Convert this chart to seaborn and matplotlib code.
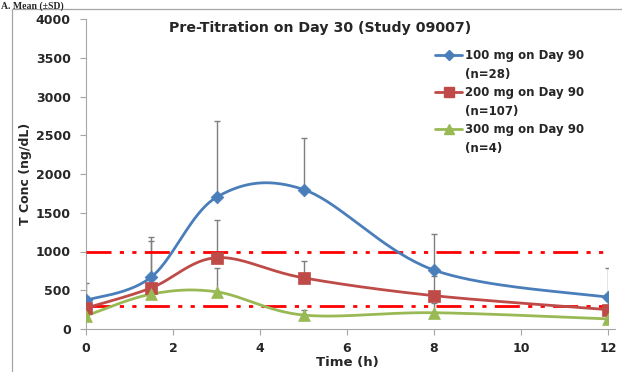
import numpy as np
import pandas as pd
import matplotlib
matplotlib.use("Agg")
import matplotlib.pyplot as plt
from matplotlib.lines import Line2D
from matplotlib.patches import Rectangle
import seaborn as sns

# Sampling times (h)
time_h = [0, 1.5, 3, 5, 8, 12]

# Mean testosterone concentration (ng/dL) per dose group
mean_100 = [370, 670, 1700, 1800, 760, 410]
mean_200 = [270, 530, 920, 660, 430, 250]
mean_300 = [170, 450, 480, 180, 210, 130]

# Mean + SD (upper end of the error bars)
upper_100 = [590, 1190, 2690, 2460, 1230, 790]
upper_200 = [420, 1130, 1410, 880, 680, 290]
upper_300 = [230, 0, 790, 250, 330, 0]

group_names = ["100 mg on Day 90", "200 mg on Day 90", "300 mg on Day 90"]
group_n = ["(n=28)", "(n=107)", "(n=4)"]
ref_levels = [1000, 300]

title_text = "Pre-Titration on Day 30 (Study 09007)"
panel_text = "A. Mean (\u00b1SD)"
x_ticks = [0, 2, 4, 6, 8, 10, 12]
y_ticks = [0, 500, 1000, 1500, 2000, 2500, 3000, 3500, 4000]

colors = ["#4A7EBB", "#BE4B48", "#98B954"]
markers = ["D", "s", "^"]
msizes = [6.5, 8, 8.5]

sns.set_theme(style="white")
plt.rcParams["font.family"] = ["DejaVu Sans"]
plt.rcParams["font.weight"] = "bold"


def smooth_curve(xs, ys, n=40):
    """Piecewise cubic Bezier through the points (Catmull-Rom style tangents)."""
    pts = np.column_stack([xs, ys]).astype(float)
    out = []
    for i in range(len(pts) - 1):
        p0 = pts[i - 1] if i > 0 else pts[i]
        p1 = pts[i]
        p2 = pts[i + 1]
        p3 = pts[i + 2] if i + 2 < len(pts) else pts[i + 1]
        c1 = p1 + (p2 - p0) / 6.0
        c2 = p2 - (p3 - p1) / 6.0
        t = np.linspace(0, 1, n)[:, None]
        seg = ((1 - t) ** 3) * p1 + 3 * ((1 - t) ** 2) * t * c1 + 3 * (1 - t) * t ** 2 * c2 + t ** 3 * p2
        out.append(seg if i == 0 else seg[1:])
    seg = np.vstack(out)
    return seg[:, 0], seg[:, 1]


fig = plt.figure(figsize=(6.22, 3.72), dpi=100)
ax = fig.add_axes([86 / 622, 1 - 329 / 372, (608 - 86) / 622, (329 - 19) / 372])

# Outer frame of the chart area
fig.patches.append(Rectangle((12 / 622, -0.1), 1.2, 1 - 9 / 372 + 0.1, transform=fig.transFigure,
                             fill=False, edgecolor="#A6A6A6", lw=0.9, zorder=0))

means = [mean_100, mean_200, mean_300]
uppers = [upper_100, upper_200, upper_300]

# Upward-only SD bars
for m, u in zip(means, uppers):
    m = np.array(m, float)
    u = np.array(u, float)
    err = np.where(u > m, u - m, 0.0)
    keep = err > 0
    ax.errorbar(np.array(time_h)[keep], m[keep], yerr=[np.zeros(keep.sum()), err[keep]],
                fmt="none", ecolor="#7F7F7F", elinewidth=1.0, capsize=2.0, capthick=1.0, zorder=2)

# Reference concentration lines
for lvl in ref_levels:
    ax.plot([time_h[0], time_h[-1]], [lvl, lvl], color="#FF0000", lw=2.0,
            dashes=(9, 3, 1.5, 3, 1.5, 3), zorder=3)

# Smoothed mean curves with markers
for m, c, mk, ms in zip(means, colors, markers, msizes):
    sx, sy = smooth_curve(time_h, m)
    sns.lineplot(x=sx, y=sy, ax=ax, color=c, lw=2.0, sort=False, estimator=None, zorder=4)
    sns.scatterplot(x=time_h, y=m, ax=ax, color=c, marker=mk, s=ms ** 2, edgecolor=c, linewidth=0.5, zorder=5)

ax.set_xlim(0, 12)
ax.set_ylim(0, 4000)
ax.set_xticks(x_ticks)
ax.set_yticks(y_ticks)
ax.tick_params(axis="both", labelsize=9, length=4, width=0.8, color="#A6A6A6", direction="out",
               left=True, bottom=True)
ax.tick_params(axis="y", pad=7)
ax.tick_params(axis="x", pad=5.5)
for lbl in ax.get_xticklabels() + ax.get_yticklabels():
    lbl.set_fontweight("bold")
for side in ["top", "right"]:
    ax.spines[side].set_visible(False)
for side in ["left", "bottom"]:
    ax.spines[side].set_color("#A6A6A6")
    ax.spines[side].set_linewidth(0.8)
ax.spines["bottom"].set_bounds(-0.08, 12.15)

ax.set_xlabel("Time (h)", fontsize=9.5, fontweight="bold", labelpad=0.5)
ax.set_ylabel("T Conc (ng/dL)", fontsize=9, fontweight="bold", labelpad=3)
ax.text(0.449, 1 - (28 - 19) / 310, title_text, transform=ax.transAxes, ha="center", va="center",
        fontsize=10.2, fontweight="bold")

fig.text(0.002, 1 - 1 / 372, panel_text, ha="left", va="top", fontsize=7, fontweight="bold",
         family=["Liberation Serif", "DejaVu Serif"])

# Legend: group name next to the handle, sample size on the line below
handles, labels = [], []
for c, mk, ms, name, n in zip(colors, markers, msizes, group_names, group_n):
    handles.append(Line2D([0], [0], color=c, lw=2.0, marker=mk, markersize=ms * 0.85, markeredgecolor=c))
    labels.append(name)
    handles.append(Line2D([0], [0], color="none", lw=0))
    labels.append(n)
leg = ax.legend(handles, labels, loc="upper left", bbox_to_anchor=((435 - 86) / 522, 1 - (49 - 19) / 310),
                frameon=False, fontsize=8.5, handlelength=2.3, handletextpad=0.2, labelspacing=0.47,
                borderpad=0, borderaxespad=0)
for t in leg.get_texts():
    t.set_fontweight("bold")

fig.savefig("out.png", dpi=100)
